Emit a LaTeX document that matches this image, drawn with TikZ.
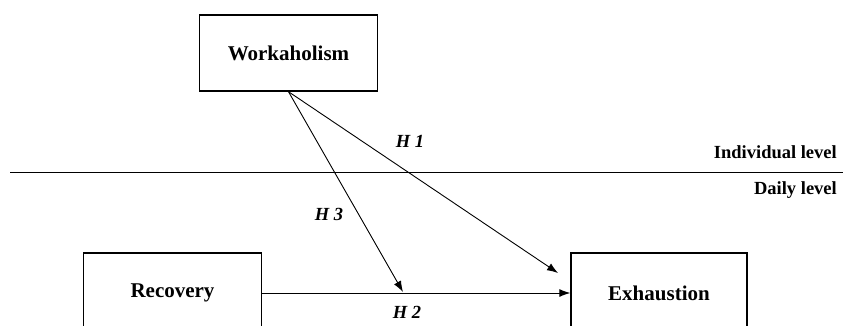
\documentclass[tikz,border=0pt]{standalone}
\usepackage{fontspec}
\setmainfont{Liberation Serif}
\usepackage{xcolor}
\usepackage{tikz}
\usetikzlibrary{arrows.meta}

\begin{document}
\begin{tikzpicture}[x=1pt,y=-1pt]
	\tikzstyle{varbox}=[draw=black, line width=1.4pt, minimum width=178pt, inner sep=0pt,
		font=\fontsize{21}{25}\selectfont\bfseries]
	\tikzstyle{hyp}=[inner sep=0pt, font=\fontsize{18.5}{22}\selectfont\bfseries\itshape]
	\tikzstyle{lvl}=[inner sep=0pt, anchor=east, font=\fontsize{18.5}{22}\selectfont\bfseries]
	\tikzstyle{path}=[black, line width=0.9pt, -{Latex[length=11pt,width=8pt]}]
	\clip (0,0) rectangle (843,325);
	\node [varbox, minimum height=76pt] (work) at (288.5,53) {Workaholism};
	\node [varbox, minimum height=80pt] (recov) at (172.5,293) {Recovery};
	\node [varbox, minimum width=176pt, minimum height=80pt] (exh) at (659,293) {Exhaustion};
	\coordinate (left) at (10,172);
	\coordinate (right) at (843,172);
	\draw [black, line width=0.9pt] (left) -- (right);
	\node [lvl] (indiv) at (837,152) {Individual level};
	\node [lvl] (daily) at (837,190) {Daily level};
	\coordinate (h1end) at (558,273);
	\coordinate (h3end) at (403,292);
	\draw [path] (recov.east |- exh.west) -- (exh.west);
	\draw [path] (work.south) -- (h1end);
	\draw [path] (work.south) -- (h3end);
	\node [hyp] (h1) at (410,141) {H 1};
	\node [hyp] (h2) at (407,312) {H 2};
	\node [hyp] (h3) at (329,214) {H 3};
	\end{tikzpicture}
\end{document}
